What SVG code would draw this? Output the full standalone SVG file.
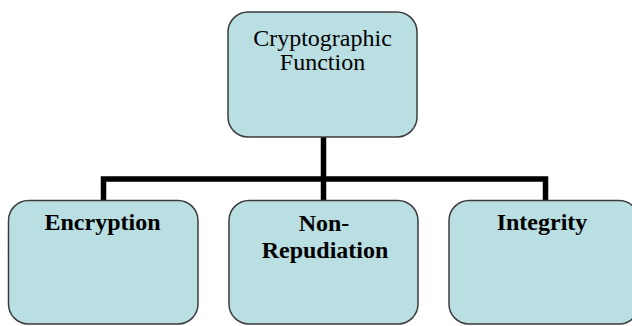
<svg xmlns="http://www.w3.org/2000/svg" width="632" height="326" viewBox="0 0 632 326">
<style>
.box{fill:#badfe2;stroke:#3c3c3c;stroke-width:1.5}
text{font-family:'Liberation Serif','DejaVu Serif',serif;font-size:24px;fill:#000;text-anchor:middle}
.b{font-weight:bold}
.c{fill:none;stroke:#000;stroke-width:5.5;stroke-linejoin:miter}
</style>
<rect width="632" height="326" fill="#fff"/>
<g id="connectors">
<path class="c" d="M323.5 137V179M103.5 201V179H545.5V201M323.5 179V201"/>
</g>
<g id="crypto">
<rect class="box" x="228" y="12" width="189" height="125" rx="20"/>
<text x="322.5" y="46" font-family="Liberation Serif, serif">Cryptographic</text>
<text x="322.5" y="70" font-family="Liberation Serif, serif">Function</text>
</g>
<g id="encryption">
<rect class="box" x="8.5" y="200.5" width="189.5" height="123.5" rx="20"/>
<text class="b" x="102.5" y="230" font-family="Liberation Serif, serif">Encryption</text>
</g>
<g id="nonrepudiation">
<rect class="box" x="229" y="200.5" width="189" height="123.5" rx="20"/>
<text class="b" x="324" y="231" font-family="Liberation Serif, serif">Non-</text>
<text class="b" x="325" y="258" font-family="Liberation Serif, serif">Repudiation</text>
</g>
<g id="integrity">
<rect class="box" x="449" y="200.5" width="190" height="123.5" rx="20"/>
<text class="b" x="542" y="230" font-family="Liberation Serif, serif">Integrity</text>
</g>
</svg>
